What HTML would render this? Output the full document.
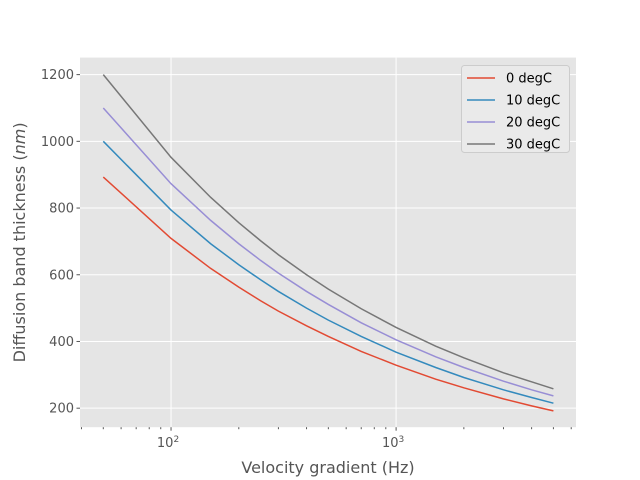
<!DOCTYPE html>
<html><head><meta charset="utf-8"><style>body{margin:0;background:#fff}svg{display:block;font-family:"DejaVu Sans","Liberation Sans",sans-serif}</style></head>
<body>
<svg id="chart" width="640" height="480"></svg>
<script>
const xValues=[50,100,150,200,250,300,400,500,700,1000,1500,2000,3000,4000,5000];
const series0=[893,709,619,563,522,491,447,415,370,329,287,261,228,207,192];
const series10=[1000,794,693,630,585,550,500,464,415,368,322,292,255,232,215];
const series20=[1100,873,763,693,643,605,550,511,456,405,354,322,281,255,237];
const series30=[1200,952,832,756,702,660,600,557,498,442,386,351,306,279,258];
const seriesNames=["0 degC","10 degC","20 degC","30 degC"];
const yTicks=[200,400,600,800,1000,1200];
const xMajor=[100,1000];
const xMinor=[40,50,60,70,80,90,200,300,400,500,600,700,800,900,2000,3000,4000,5000,6000];
const colors=["#E24A33","#348ABD","#988ED5","#777777"];
const L=80,R=576,T=57.6,B=427.2;
const lx0=Math.log10(39.4),lx1=Math.log10(6300);
const y0=143,y1=1251;
const X=v=>L+(Math.log10(v)-lx0)/(lx1-lx0)*(R-L);
const Y=v=>B-(v-y0)/(y1-y0)*(B-T);
const svg=document.getElementById('chart');const NS="http://www.w3.org/2000/svg";
function mk(t,a,p){const e=document.createElementNS(NS,t);for(const k in a)e.setAttribute(k,a[k]);(p||svg).appendChild(e);return e;}
const bg=mk('rect',{x:L,y:T,width:R-L,height:B-T,fill:'#E5E5E5'});


yTicks.forEach(v=>{
 const g=mk('line',{x1:L,x2:R,y1:Y(v),y2:Y(v),stroke:'#fff','stroke-width':1});
 
 
 mk('line',{x1:L-3.5,x2:L,y1:Y(v),y2:Y(v),stroke:'#555'});
 const t=mk('text',{x:L-6,y:Y(v)+4.5,'text-anchor':'end','font-size':13,fill:'#555'});t.textContent=v;
 
 
});
xMajor.forEach((v,i)=>{
 const g=mk('line',{x1:X(v),x2:X(v),y1:T,y2:B,stroke:'#fff'});
 
 
 mk('line',{x1:X(v),x2:X(v),y1:B,y2:B+3.5,stroke:'#555'});
 const t=mk('text',{x:X(v)-3,y:B+20,'text-anchor':'middle','font-size':13,fill:'#555'});
 t.textContent='10';
 const s=mk('tspan',{dy:-5,'font-size':9});s.textContent=String(i+2);t.appendChild(s);
 
 
});
xMinor.forEach(v=>{const x=X(v);if(x>=L&&x<=R)mk('line',{x1:x,x2:x,y1:B,y2:B+2,stroke:'#555'});});
[series0,series10,series20,series30].forEach((s,i)=>{
 const p=mk('polyline',{points:s.map((v,j)=>X(xValues[j])+','+Y(v)).join(' '),fill:'none',stroke:colors[i],'stroke-width':1.5});
 
 
});
const xl=mk('text',{x:(L+R)/2,y:473,'text-anchor':'middle','font-size':16,fill:'#555'});xl.textContent='Velocity gradient (Hz)';


const yl=mk('text',{x:0,y:0,transform:`translate(25,${(T+B)/2}) rotate(-90)`,'text-anchor':'middle','font-size':16,fill:'#555'});
yl.innerHTML='Diffusion band thickness (<tspan font-style="italic">nm</tspan>)';


const lg=mk('g',{});


mk('rect',{x:461.5,y:65.5,width:108,height:87,rx:3,fill:'#EAEAEA',stroke:'#CCCCCC'},lg);
seriesNames.forEach((n,i)=>{
 const y=78+i*22;
 mk('line',{x1:467,x2:495,y1:y,y2:y,stroke:colors[i],'stroke-width':1.5},lg);
 const t=mk('text',{x:506,y:y+4.5,'font-size':13,fill:'#000'},lg);t.textContent=n;
 
 
});
</script>
</body></html>
